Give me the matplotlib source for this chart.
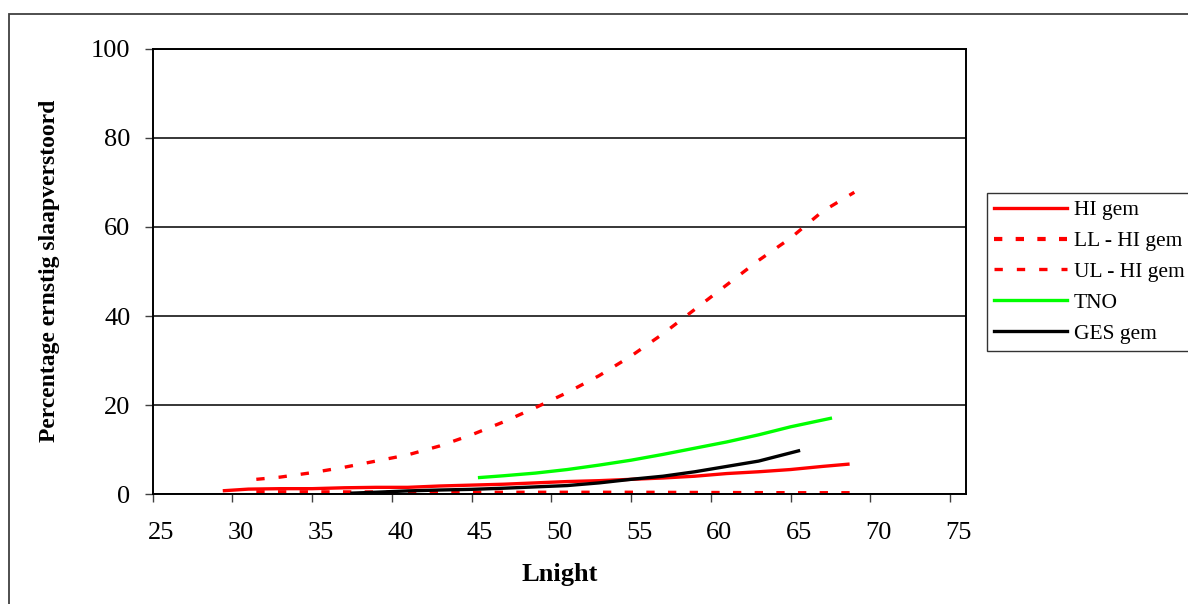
import matplotlib.pyplot as plt
import matplotlib.transforms as mtransforms
from matplotlib.patches import Rectangle

plt.rcParams['font.family'] = ['Liberation Serif', 'DejaVu Serif']

# data
hi_x = [29.5, 31, 33, 35, 37, 39, 41, 43, 45, 47, 49, 51, 53, 55, 57, 59, 61, 63, 65, 67, 68.6]
hi_y = [0.75, 1.1, 1.2, 1.2, 1.4, 1.5, 1.5, 1.8, 2.0, 2.2, 2.5, 2.8, 3.0, 3.3, 3.6, 4.0, 4.6, 5.0, 5.5, 6.2, 6.7]

ll_x = [31.5, 35, 40, 45, 50, 55, 60, 65, 69.3]
ll_y = [0.4, 0.4, 0.35, 0.3, 0.3, 0.3, 0.25, 0.2, 0.2]

ul_x = [31.5, 33, 35, 37, 39, 41, 43, 45, 47, 49, 51, 53, 55, 57, 59, 61, 63, 65, 67, 69]
ul_y = [3.3, 3.8, 4.8, 6.0, 7.4, 8.8, 10.8, 13.3, 16.2, 19.4, 22.8, 26.6, 31.0, 36.0, 41.5, 47.0, 52.5, 57.5, 63.5, 67.8]

tno_x = [45.5, 47, 49, 51, 53, 55, 57, 59, 61, 63, 65, 67.5]
tno_y = [3.7, 4.1, 4.7, 5.5, 6.5, 7.6, 8.9, 10.3, 11.7, 13.3, 15.1, 17.0]

ges_x = [37.5, 39, 41, 43, 45, 47, 49, 51, 53, 55, 57, 59, 61, 63, 65.5]
ges_y = [0.2, 0.4, 0.7, 0.9, 1.05, 1.3, 1.6, 1.9, 2.5, 3.3, 4.0, 5.0, 6.2, 7.4, 9.7]

x_ticks = [25, 30, 35, 40, 45, 50, 55, 60, 65, 70, 75]
y_ticks = [0, 20, 40, 60, 80, 100]

fig = plt.figure(figsize=(11.88, 6.04), dpi=100)
ax = fig.add_axes([0.1285, 0.1821, 0.6846, 0.7368])

# outer chart-area border (right and bottom run off the image)
fig.patches.append(Rectangle((9 / 1188, -0.1), 1.2, 0.9768 + 0.1, transform=fig.transFigure,
                             fill=False, edgecolor='#404040', linewidth=1.3))

ax.plot(hi_x, hi_y, color='#ff0000', lw=2.4, label='HI gem')
ax.plot(ll_x, ll_y, color='#ff0000', lw=3.0, ls=(0, (2.0, 3.2)), label='LL - HI gem')
ax.plot(ul_x, ul_y, color='#ff0000', lw=2.4, ls=(0, (2.5, 4.2)), label='UL - HI gem')
ax.plot(tno_x, tno_y, color='#00ff00', lw=2.4, label='TNO')
ax.plot(ges_x, ges_y, color='black', lw=2.4, label='GES gem')

ax.set_xlim(25, 76)
ax.set_ylim(0, 100)
ax.set_xticks(x_ticks)
ax.set_yticks(y_ticks)
ax.yaxis.grid(True, color='black', lw=1.1)
ax.set_axisbelow(True)
for s in ax.spines.values():
    s.set_color('black')
    s.set_linewidth(1.4)
ax.tick_params(direction='out', length=6, width=1, color='#404040', labelsize=19)
ax.tick_params(axis='x', pad=14)
ax.tick_params(axis='y', pad=10)

shift = mtransforms.ScaledTranslation(0.085, 0, fig.dpi_scale_trans)
for lab in ax.get_xticklabels():
    lab.set_transform(lab.get_transform() + shift)

fig.text(0.4707, 1 - 574 / 604, 'Lnight', ha='center', va='center', fontsize=19, fontweight='bold')
fig.text(50 / 1188, 1 - 271 / 604, 'Percentage ernstig slaapverstoord', ha='center', va='center',
         rotation=90, fontsize=17, fontweight='bold')

leg = ax.legend(loc='upper left', bbox_to_anchor=(986.7 / 1188, 1 - 192.7 / 604),
                bbox_transform=fig.transFigure, fontsize=15.5, frameon=True, fancybox=False,
                handlelength=3.4, handletextpad=0.3, labelspacing=0.5, borderpad=0.35,
                borderaxespad=0)
leg.get_frame().set_edgecolor('black')
leg.get_frame().set_linewidth(1.0)

fig.savefig('out.png', dpi=100)
